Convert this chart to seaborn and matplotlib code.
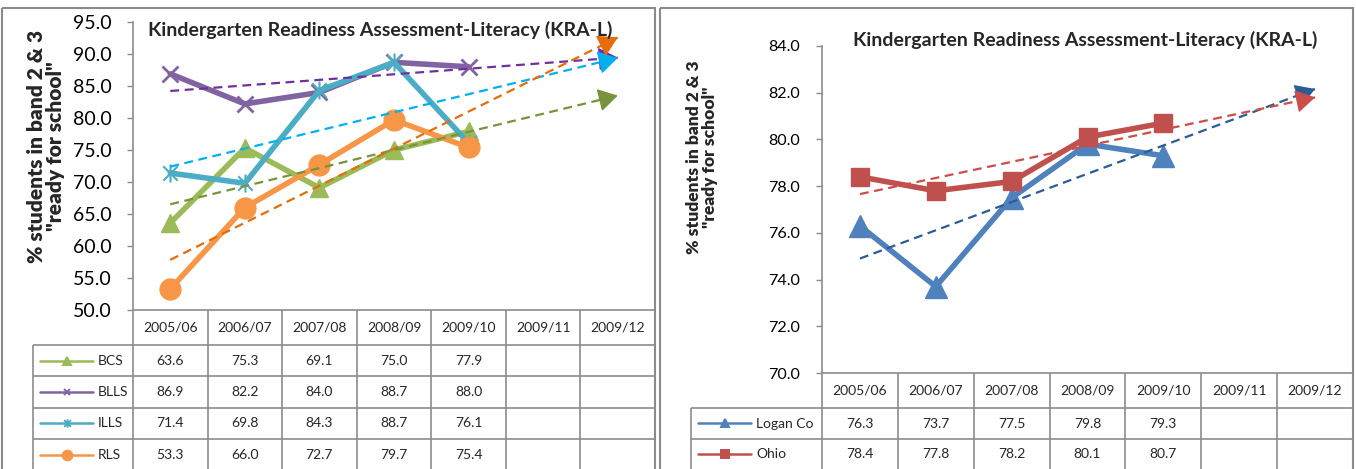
import numpy as np
import pandas as pd
import matplotlib
matplotlib.use("Agg")
import matplotlib.pyplot as plt
import seaborn as sns
from matplotlib.path import Path
from matplotlib.patches import Rectangle
from matplotlib.ticker import StrMethodFormatter

# school years shown in the data table (last two are the projection columns)
periods = ["2005/06", "2006/07", "2007/08", "2008/09", "2009/10", "2009/11", "2009/12"]

# left chart: schools
schools = ["BCS", "BLLS", "ILLS", "RLS"]
bcs = [63.6, 75.3, 69.1, 75.0, 77.9]
blls = [86.9, 82.2, 84.0, 88.7, 88.0]
ills = [71.4, 69.8, 84.3, 88.7, 76.1]
rls = [53.3, 66.0, 72.7, 79.7, 75.4]

# right chart: county vs state
areas = ["Logan Co", "Ohio"]
logan = [76.3, 73.7, 77.5, 79.8, 79.3]
ohio = [78.4, 77.8, 78.2, 80.1, 80.7]

title = "Kindergarten Readiness Assessment-Literacy (KRA-L)"
ylabel = '% students in band 2 & 3\n"ready for school"'

W, H = 1356, 469
GRID = "#8c8c8c"

# excel style "star" marker: an x with a vertical bar
M, L = Path.MOVETO, Path.LINETO
star = Path([(-1, -1), (1, 1), (-1, 1), (1, -1), (0, -1.25), (0, 1.25)],
            [M, L, M, L, M, L])

sns.set_theme(style="white")
plt.rcParams["font.family"] = ["Lato", "DejaVu Sans"]

fig = plt.figure(figsize=(W / 100, H / 100), dpi=100)


def box(x0, y0, x1, y1):
    return [x0 / W, 1 - y1 / H, (x1 - x0) / W, (y1 - y0) / H]


# overlay in pixel coordinates for panel frames and the data tables
ov = fig.add_axes([0, 0, 1, 1], zorder=5)
ov.set_xlim(0, W)
ov.set_ylim(H, 0)
ov.axis("off")

ov.add_patch(Rectangle((2, 8), 653, 480, fill=False, ec="#8a8a8a", lw=1.5))
ov.add_patch(Rectangle((660, 8), 693, 480, fill=False, ec="#8a8a8a", lw=1.5))


def draw_panel(p):
    ax = fig.add_axes(box(p["left"], p["top"], p["right"], p["bottom"]))
    x = np.arange(len(p["values"][0]))
    xx = np.arange(len(periods))

    for vals, st in zip(p["values"], p["styles"]):
        df = pd.DataFrame({"x": x, "y": vals})
        sns.lineplot(data=df, x="x", y="y", ax=ax, color=st["color"], lw=4,
                     marker=st["marker"], markersize=st["ms"],
                     markeredgewidth=st.get("mew", 1), markeredgecolor=st["color"],
                     zorder=3)
        # linear trend projected two years ahead
        k, b = np.polyfit(x, vals, 1)
        trend = k * xx + b
        ax.plot(xx, trend, color=st["trend"], lw=1.6, ls=(0, (4, 2.5)), zorder=4)
        ax.annotate("", xy=(xx[-1], trend[-1]), xytext=(xx[-1] - 0.05, trend[-1] - 0.05 * k),
                    arrowprops=dict(arrowstyle="-|>,head_length=0.45,head_width=0.27",
                                    color=st["trend"], lw=1, shrinkA=0, shrinkB=0,
                                    mutation_scale=27), zorder=5)

    ax.set_xlim(-0.5, len(periods) - 0.5)
    ax.set_ylim(p["ylim"])
    ax.set_yticks(p["yticks"])
    ax.set_xticks([])
    ax.set_xlabel("")
    ax.set_ylabel("")
    ax.yaxis.set_major_formatter(StrMethodFormatter("{x:.1f}"))
    ax.tick_params(axis="y", left=True, length=4, width=1, color=GRID, direction="out",
                   pad=p["pad"], labelsize=p["tick_fs"], labelcolor="black")
    for s in ["top", "right"]:
        ax.spines[s].set_visible(False)
    for s in ["left", "bottom"]:
        ax.spines[s].set_color(GRID)
        ax.spines[s].set_linewidth(1.2)

    fig.text(p["title_xy"][0] / W, 1 - p["title_xy"][1] / H, title, ha="left", va="center",
             fontsize=p["title_fs"], fontweight="bold")
    fig.text(p["ylab_xy"][0] / W, 1 - p["ylab_xy"][1] / H, ylabel, ha="center", va="center",
             rotation=90, multialignment="center", fontsize=p["ylab_fs"], fontweight="heavy",
             linespacing=1.0)

    # data table under the plot
    left, right, bottom = p["left"], p["right"], p["bottom"]
    colw = (right - left) / len(periods)
    edges = [left + i * colw for i in range(len(periods) + 1)]
    hb = bottom + p["header_h"]
    rows = [hb + i * p["row_h"] for i in range(len(p["names"]))]
    lg = p["legend_left"]
    kw = dict(color=GRID, lw=1.2, solid_capstyle="butt")
    for y in rows:
        ov.plot([lg, right], [y, y], **kw)
    for e in edges:
        ov.plot([e, e], [bottom, H + 5], **kw)
    ov.plot([lg, lg], [hb, H + 5], **kw)

    for i, per in enumerate(periods):
        ov.text((edges[i] + edges[i + 1]) / 2, (bottom + hb) / 2, per, ha="center",
                va="center", fontsize=p["tab_fs"])
    for r, (name, vals, st) in enumerate(zip(p["names"], p["values"], p["styles"])):
        yc = rows[r] + p["row_h"] / 2
        ov.plot([lg + 7, lg + 60], [yc, yc], color=st["color"], lw=1.8)
        ov.plot([lg + 33.5], [yc], marker=st["marker"], ms=st["lms"], color=st["color"],
                mec=st["color"], mew=1.4)
        ov.text(lg + 65, yc, name, ha="left", va="center", fontsize=p["tab_fs"])
        for i, v in enumerate(vals):
            ov.text((edges[i] + edges[i + 1]) / 2, yc, f"{v:.1f}", ha="center",
                    va="center", fontsize=p["tab_fs"])
    return ax


left_panel = dict(
    left=133, right=655, top=22, bottom=310,
    ylim=(50, 95), yticks=np.arange(50, 96, 5),
    names=schools, values=[bcs, blls, ills, rls],
    styles=[
        dict(color="#9BBB59", trend="#77933C", marker="^", ms=13, lms=6),
        dict(color="#8064A2", trend="#7030A0", marker="x", ms=12, mew=2, lms=5),
        dict(color="#4BACC6", trend="#00B0F0", marker=star, ms=13, mew=1.5, lms=6),
        dict(color="#F79646", trend="#E46C0A", marker="o", ms=15, lms=7),
    ],
    legend_left=33, header_h=35, row_h=31.3,
    title_xy=(148, 30), title_fs=14, ylab_xy=(46, 146), ylab_fs=15,
    tick_fs=14, pad=11.5, tab_fs=10,
)

right_panel = dict(
    left=822, right=1353, top=46, bottom=373,
    ylim=(70, 84), yticks=np.arange(70, 85, 2),
    names=areas, values=[logan, ohio],
    styles=[
        dict(color="#4F81BD", trend="#2B5C97", marker="^", ms=16, lms=6),
        dict(color="#C0504D", trend="#CB4E4A", marker="s", ms=13, lms=6),
    ],
    legend_left=691, header_h=35, row_h=31,
    title_xy=(853, 40), title_fs=14, ylab_xy=(702, 157), ylab_fs=12.5,
    tick_fs=11.6, pad=12, tab_fs=10,
)

draw_panel(left_panel)
draw_panel(right_panel)

fig.savefig("out.png", dpi=100)
